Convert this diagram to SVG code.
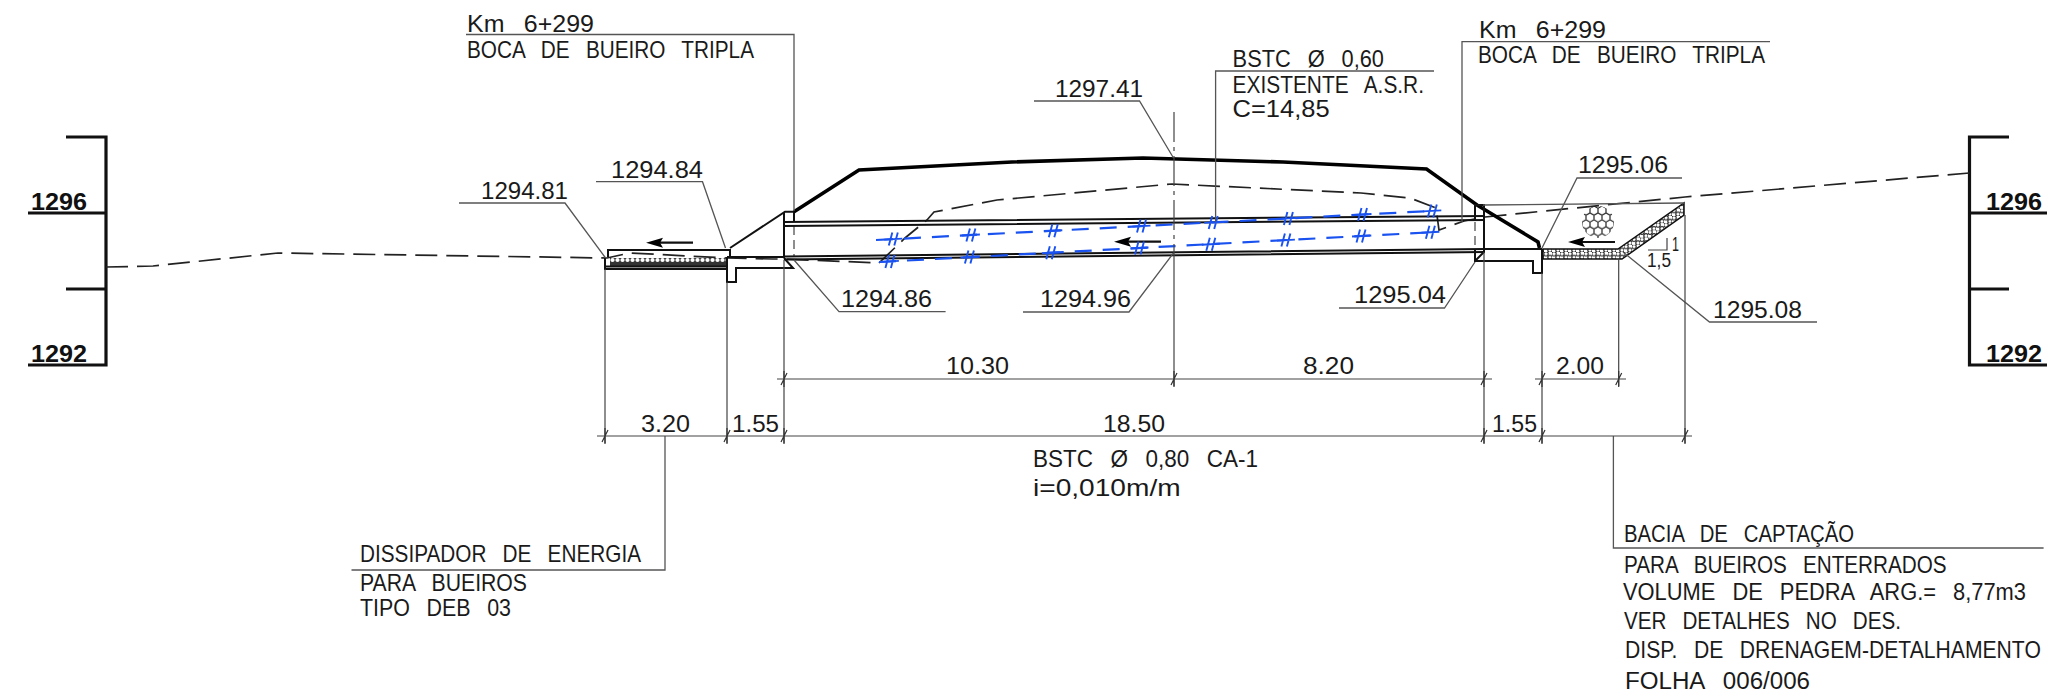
<svg xmlns="http://www.w3.org/2000/svg" width="2047" height="700" viewBox="0 0 2047 700">
<style>
text{font-family:"Liberation Sans",Arial,sans-serif;font-size:24px;fill:#1a1a1a;word-spacing:.5em}
.b{font-weight:bold;font-size:24px;fill:#111}
.n{font-size:23px}
.s{font-size:20px}
.l{fill:none;stroke:#555;stroke-width:1.3}
.d{fill:none;stroke:#444;stroke-width:1.2}
.k{fill:none;stroke:#111;stroke-width:2}
.h{fill:none;stroke:#000;stroke-width:3.6;stroke-linejoin:miter}
.sc{fill:none;stroke:#111;stroke-width:3.2}
.g{fill:none;stroke:#222;stroke-width:1.7;stroke-dasharray:22 9}
.bl{fill:none;stroke:#1a52f0;stroke-width:2.2;stroke-dasharray:17 11}
.a{fill:none;stroke:#111;stroke-width:2.2}
</style>
<defs>
<pattern id="gr" width="8" height="7.2" patternUnits="userSpaceOnUse">
<rect width="8" height="7.2" fill="#fff"/>
<circle cx="2" cy="1.8" r="2.2" fill="#fff" stroke="#222" stroke-width="1.1"/>
<circle cx="6" cy="5.4" r="2.2" fill="#fff" stroke="#222" stroke-width="1.1"/>
</pattern>
<pattern id="gl" width="5" height="8" patternUnits="userSpaceOnUse">
<rect width="5" height="8" fill="#333"/>
<circle cx="2.5" cy="4" r="2.1" fill="#fff"/>
</pattern>
<pattern id="hx" x="1590" y="206" width="8" height="13.8" patternUnits="userSpaceOnUse">
<path d="M0 2.3 4 0 8 2.3V6.900L4 9.200 0 6.900ZM4 9.200V13.800" fill="none" stroke="#222" stroke-width="1.2"/>
</pattern>
<path id="t" d="M-3 6 3-6M0-8V8" fill="none" stroke="#333" stroke-width="1.2"/>
<path id="hs" d="M-4.500 6.500-1-6.500M1 6.500 4.500-6.500M-9 .5 9-.5" fill="none" stroke="#1a52f0" stroke-width="1.9"/>
<path id="ar" d="M0 0 17-5 14 0 17 5Z" fill="#000"/>
</defs>
<rect width="2047" height="700" fill="#fff"/>

<g id="scale-left">
<path class="sc" d="M66 137H106V365H28M66 289H106M28 213H106"/>
<text class="b" x="31" y="210" textLength="56" lengthAdjust="spacingAndGlyphs">1296</text>
<text class="b" x="31" y="362" textLength="56" lengthAdjust="spacingAndGlyphs">1292</text>
</g>
<g id="scale-right">
<path class="sc" d="M2009 137H1969.500V365H2047M2009 289H1969.500M1969.500 213H2047"/>
<text class="b" x="1986" y="210" textLength="56" lengthAdjust="spacingAndGlyphs">1296</text>
<text class="b" x="1986" y="362" textLength="56" lengthAdjust="spacingAndGlyphs">1292</text>
</g>

<g id="ground-profile">
<path class="g" d="M106 267 153 266 278 253 607 258 630 253 727 258 773 259 784 259 879 263"/>
<path class="g" d="M879 263 905 238 927 220 934 212 997 200 1172 184 1361 193 1410 198 1436 208 1439 230 1464 221 1485 217 1685 197 1969.500 173"/>
</g>

<g id="dissipator">
<rect x="610" y="258" width="116" height="8" fill="url(#gl)"/>
<path class="k" d="M608 257V250H730V257M605 258V269H727M605 266.500H727"/>
<path class="a" d="M693 242.700H660"/><use href="#ar" x="646" y="242.700"/>
</g>

<g id="headwall-left">
<path class="k" d="M730 248 785 211.700H794M784 211.700V258M727 257H784M727 257V282H736V268H793L784 258M794 211.700V222"/>
<path class="d" d="M794 226V257" stroke-dasharray="9 5"/>
</g>

<g id="road">
<path class="h" d="M794 211.700 859 170 1012 162 1143 158 1283 162 1426.500 169 1477 205 1538 242 1539.500 248"/>
</g>

<g id="culvert">
<path class="k" d="M784 222 1485 216M784 226 1485 220"/>
<path class="k" d="M784 256.500 1485 249M784 259.500 1485 252"/>
<path class="a" d="M1161 241.700H1128"/><use href="#ar" x="1114" y="241.700"/>
</g>

<g id="culvert-existing">
<path class="bl" d="M876 240 1436 210.700"/>
<path class="bl" d="M879 262 1436 232"/>
<use href="#hs" x="893.300" y="239.100"/><use href="#hs" x="970.900" y="235"/><use href="#hs" x="1053.300" y="230.700"/><use href="#hs" x="1141.500" y="226.100"/><use href="#hs" x="1213.200" y="222.400"/><use href="#hs" x="1288.400" y="218.400"/><use href="#hs" x="1362.500" y="214.500"/><use href="#hs" x="1432.300" y="210.900"/>
<use href="#hs" x="889.900" y="261.400"/><use href="#hs" x="969.400" y="257.100"/><use href="#hs" x="1050.800" y="252.700"/><use href="#hs" x="1139.500" y="248"/><use href="#hs" x="1210.800" y="244.200"/><use href="#hs" x="1285.900" y="240.100"/><use href="#hs" x="1361" y="236"/><use href="#hs" x="1430.400" y="232.300"/>
</g>

<g id="headwall-right">
<path class="k" d="M1475 220V205H1484V252M1484 249H1542M1475 250V261H1533V273H1542V249M1475 261 1484 252"/>
<path class="d" d="M1475 222V250" stroke-dasharray="9 5"/>
</g>

<g id="catch-basin">
<path d="M1543 249H1618L1684 203V215L1622 259H1543Z" fill="url(#gr)" stroke="#111" stroke-width="1.5"/>
<path class="l" d="M1483 205 1684 203"/>
<circle cx="1598" cy="222" r="16" fill="url(#hx)"/>
<path class="a" d="M1615 242H1582"/><use href="#ar" x="1568" y="242"/>
<path class="d" d="M1648 250H1667V238"/>
<text class="s" x="1672" y="250.500" textLength="7" lengthAdjust="spacingAndGlyphs">1</text>
<text class="s" x="1647" y="267" textLength="24" lengthAdjust="spacingAndGlyphs">1,5</text>
</g>

<g id="centerline">
<path class="d" d="M1174 112V253" stroke-dasharray="30 5 4 5" stroke-width="1.5"/>
</g>

<g id="connectors">
<path class="l" d="M466 34.500H794V211"/>
<path class="l" d="M1770 41.700H1462V222"/>
<path class="l" d="M459 203H565L605.600 258"/>
<path class="l" d="M596 181.700H702.500L725.500 248"/>
<path class="l" d="M945.600 311.700H839L794 260"/>
<path class="l" d="M1034 101H1139.500L1173.500 158"/>
<path class="l" d="M1023 312H1129L1173.500 253"/>
<path class="l" d="M1434 71H1215.600V222"/>
<path class="l" d="M1339 308H1444.500L1475 262"/>
<path class="l" d="M1542 248 1577 178H1682"/>
<path class="l" d="M1623 252 1709.500 322H1817"/>
<path class="l" d="M665 436V570H351.500"/>
<path class="l" d="M1613.400 436V548H2043.600"/>
</g>

<g id="dimensions">
<path class="d" d="M597 436H1692M777 379H1492M1535 379H1626"/>
<path class="d" d="M605 269V443M727 282V443M784 260V443M1174 253V386M1484 252V443M1542 273V443M1618.700 259V386M1685 215V443"/>
<use href="#t" x="605" y="436"/><use href="#t" x="727" y="436"/><use href="#t" x="784" y="436"/><use href="#t" x="1484" y="436"/><use href="#t" x="1542" y="436"/><use href="#t" x="1685" y="436"/>
<use href="#t" x="784" y="379"/><use href="#t" x="1174" y="379"/><use href="#t" x="1484" y="379"/><use href="#t" x="1542" y="379"/><use href="#t" x="1618.700" y="379"/>
<text x="641" y="431.700" textLength="49" lengthAdjust="spacingAndGlyphs">3.20</text>
<text x="732" y="431.700" textLength="47" lengthAdjust="spacingAndGlyphs">1.55</text>
<text x="1103" y="431.700" textLength="62" lengthAdjust="spacingAndGlyphs">18.50</text>
<text x="1492" y="431.700" textLength="45" lengthAdjust="spacingAndGlyphs">1.55</text>
<text x="946" y="374" textLength="63" lengthAdjust="spacingAndGlyphs">10.30</text>
<text x="1303" y="374" textLength="51" lengthAdjust="spacingAndGlyphs">8.20</text>
<text x="1556" y="374" textLength="48" lengthAdjust="spacingAndGlyphs">2.00</text>
</g>

<g id="labels">
<text x="467" y="32" textLength="127" lengthAdjust="spacingAndGlyphs">Km 6+299</text>
<text x="467" y="57.500" textLength="287" lengthAdjust="spacingAndGlyphs">BOCA DE BUEIRO TRIPLA</text>
<text x="1479" y="37.700" textLength="127" lengthAdjust="spacingAndGlyphs">Km 6+299</text>
<text x="1478" y="63" textLength="287" lengthAdjust="spacingAndGlyphs">BOCA DE BUEIRO TRIPLA</text>
<text x="481" y="199" textLength="87" lengthAdjust="spacingAndGlyphs">1294.81</text>
<text x="611" y="177.700" textLength="92" lengthAdjust="spacingAndGlyphs">1294.84</text>
<text x="1055" y="97" textLength="88" lengthAdjust="spacingAndGlyphs">1297.41</text>
<text x="1232.600" y="66.700" textLength="151.400" lengthAdjust="spacingAndGlyphs">BSTC Ø 0,60</text>
<text x="1232.600" y="93" textLength="191.400" lengthAdjust="spacingAndGlyphs">EXISTENTE A.S.R.</text>
<text x="1232.600" y="116.700" textLength="97" lengthAdjust="spacingAndGlyphs">C=14,85</text>
<text x="841" y="307" textLength="91" lengthAdjust="spacingAndGlyphs">1294.86</text>
<text x="1040" y="307" textLength="91" lengthAdjust="spacingAndGlyphs">1294.96</text>
<text x="1354" y="303" textLength="92" lengthAdjust="spacingAndGlyphs">1295.04</text>
<text x="1578" y="173" textLength="90" lengthAdjust="spacingAndGlyphs">1295.06</text>
<text x="1713" y="318" textLength="89" lengthAdjust="spacingAndGlyphs">1295.08</text>
<text x="1033" y="466.700" textLength="225" lengthAdjust="spacingAndGlyphs">BSTC Ø 0,80 CA-1</text>
<text x="1033" y="496" textLength="147.600" lengthAdjust="spacingAndGlyphs">i=0,010m/m</text>
<text x="360" y="562" textLength="281" lengthAdjust="spacingAndGlyphs">DISSIPADOR DE ENERGIA</text>
<text x="360" y="591" textLength="167" lengthAdjust="spacingAndGlyphs">PARA BUEIROS</text>
<text x="360" y="615.700" textLength="151" lengthAdjust="spacingAndGlyphs">TIPO DEB 03</text>
<text class="n" x="1624" y="542" textLength="230" lengthAdjust="spacingAndGlyphs">BACIA DE CAPTAÇÃO</text>
<text class="n" x="1624" y="572.700" textLength="322.600" lengthAdjust="spacingAndGlyphs">PARA BUEIROS ENTERRADOS</text>
<text class="n" x="1623" y="600" textLength="403" lengthAdjust="spacingAndGlyphs">VOLUME DE PEDRA ARG.= 8,77m3</text>
<text class="n" x="1624" y="628.700" textLength="277" lengthAdjust="spacingAndGlyphs">VER DETALHES NO DES.</text>
<text class="n" transform="translate(1625 658) scale(.92 1)">DISP. DE DRENAGEM-DETALHAMENTO</text>
<text class="n" x="1625" y="688.700" textLength="185" lengthAdjust="spacingAndGlyphs">FOLHA 006/006</text>
</g>
</svg>
